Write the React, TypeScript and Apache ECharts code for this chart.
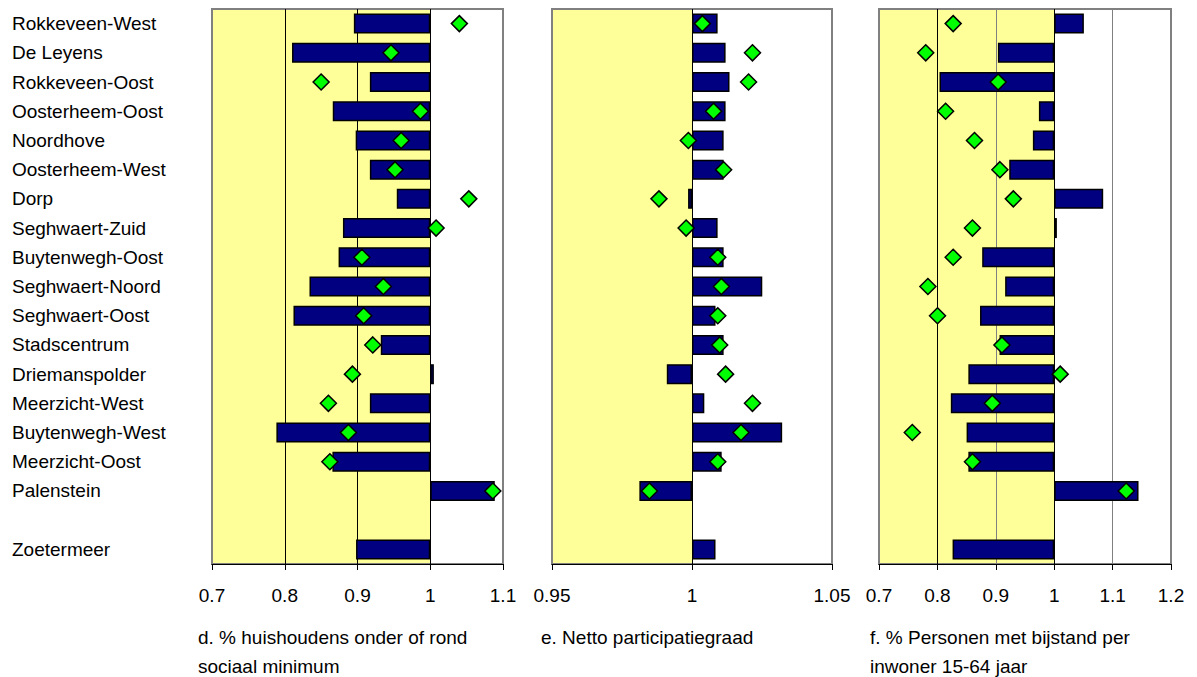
import React, { useEffect, useRef } from "react";
import * as echarts from "echarts";

const districts = [
  "Rokkeveen-West", "De Leyens", "Rokkeveen-Oost", "Oosterheem-Oost", "Noordhove",
  "Oosterheem-West", "Dorp", "Seghwaert-Zuid", "Buytenwegh-Oost", "Seghwaert-Noord",
  "Seghwaert-Oost", "Stadscentrum", "Driemanspolder", "Meerzicht-West", "Buytenwegh-West",
  "Meerzicht-Oost", "Palenstein",
];
const totalLabel = "Zoetermeer";

// d. % huishoudens onder of rond sociaal minimum
const barsD = [0.895, 0.81, 0.917, 0.866, 0.8975, 0.917, 0.954, 0.88, 0.874, 0.834, 0.812, 0.932, 1.005, 0.917, 0.7885, 0.8655, 1.0887];
const totalD = 0.898;
const markersD = [1.04, 0.946, 0.85, 0.9865, 0.96, 0.9516, 1.053, 1.008, 0.906, 0.9356, 0.9085, 0.921, 0.893, 0.86, 0.8875, 0.862, 1.086];

// e. Netto participatiegraad
const barsE = [1.00915, 1.012, 1.0134, 1.012, 1.0113, 1.0113, 0.9986, 1.00915, 1.0113, 1.0251, 1.0084, 1.0113, 0.991, 1.0044, 1.0322, 1.0106, 0.9812];
const totalE = 1.0084;
const markersE = [1.0037, 1.0216, 1.0202, 1.0077, 0.9987, 1.0113, 0.9882, 0.9979, 1.0092, 1.0105, 1.0092, 1.0099, 1.012, 1.0216, 1.0175, 1.0092, 0.9848];

// f. % Personen met bijstand per inwoner 15-64 jaar
const barsF = [1.0508, 0.9036, 0.8036, 0.9738, 0.9635, 0.923, 1.0839, 1.0046, 0.8767, 0.916, 0.873, 0.9064, 0.853, 0.823, 0.85, 0.853, 1.1444];
const totalF = 0.826;
const markersF = [0.827, 0.78, 0.904, 0.814, 0.8635, 0.907, 0.93, 0.86, 0.827, 0.7837, 0.8002, 0.9105, 1.0103, 0.894, 0.757, 0.86, 1.1233];

const titleD = ["d. % huishoudens onder of rond", "sociaal minimum"];
const titleE = ["e. Netto participatiegraad"];
const titleF = ["f. % Personen met bijstand per", "inwoner 15-64 jaar"];

const axisMin = [0.7, 0.95, 0.7];
const axisMax = [1.1, 1.05, 1.2];
const axisStep = [0.1, 0.05, 0.1];

const FONT = "'Liberation Sans', Arial, sans-serif";

export default function App() {
  const ref = useRef<HTMLDivElement>(null);
  useEffect(() => {
    if (!ref.current) return;
    const chart = echarts.init(ref.current, null, { renderer: "svg" });
    const categories = [...districts, "", totalLabel];
    const panels = [
      { bars: [...barsD, null, totalD], markers: markersD },
      { bars: [...barsE, null, totalE], markers: markersE },
      { bars: [...barsF, null, totalF], markers: markersF },
    ];
    const gridLefts = [212, 552, 879];
    const gridWidths = [291, 280, 292];
    const titleLefts = [198, 541, 870];
    const splitColors = [
      ["#000000"],
      ["#000000"],
      ["#000000", "#808080", "#000000", "#808080"],
    ];

    const series: any[] = [];
    panels.forEach((p, k) => {
      series.push({
        type: "bar",
        xAxisIndex: k,
        yAxisIndex: k,
        stack: "s" + k,
        barWidth: 20,
        silent: true,
        z: 1,
        itemStyle: { color: "rgba(0,0,0,0)", borderWidth: 0 },
        data: p.bars.map((v) => (v == null ? "-" : Math.min(v, 1))),
        markArea: {
          silent: true,
          itemStyle: { color: "#FFFF99" },
          data: [[{ xAxis: axisMin[k] }, { xAxis: 1 }]],
        },
      });
      series.push({
        type: "bar",
        xAxisIndex: k,
        yAxisIndex: k,
        stack: "s" + k,
        barWidth: 20,
        z: 2,
        itemStyle: { color: "#000080", borderColor: "#000000", borderWidth: 1.5 },
        data: p.bars.map((v) => (v == null ? "-" : Math.abs(v - 1))),
      });
      series.push({
        type: "scatter",
        xAxisIndex: k,
        yAxisIndex: k,
        z: 3,
        symbol: "diamond",
        symbolSize: 16,
        itemStyle: { color: "#00FF00", borderColor: "#000000", borderWidth: 1.5, opacity: 1 },
        data: p.markers.map((v, i) => [v, i]),
      });
    });

    const titles: any[] = [];
    [titleD, titleE, titleF].forEach((lines, k) => {
      lines.forEach((line, j) => {
        titles.push({
          text: line,
          left: titleLefts[k],
          top: 627 + j * 29,
          padding: 0,
          textStyle: { fontSize: 19, fontWeight: "normal", color: "#000", lineHeight: 20, fontFamily: FONT },
        });
      });
    });

    chart.setOption({
      animation: false,
      backgroundColor: "#ffffff",
      textStyle: { fontFamily: FONT },
      title: titles,
      grid: gridLefts.map((l, k) => ({
        left: l,
        width: gridWidths[k],
        top: 9,
        height: 555,
        show: true,
        borderColor: "#808080",
        borderWidth: 2,
        backgroundColor: "transparent",
        z: 1.2,
      })),
      xAxis: [0, 1, 2].map((k) => ({
        type: "value",
        gridIndex: k,
        min: axisMin[k],
        max: axisMax[k],
        interval: axisStep[k],
        z: 1.5,
        axisLine: { show: true, lineStyle: { color: "#000", width: 1 } },
        axisTick: { show: true, length: 6, lineStyle: { color: "#000" } },
        axisLabel: { fontSize: 19, color: "#000", margin: 22, fontFamily: FONT },
        splitLine: {
          show: true,
          showMinLine: false,
          showMaxLine: false,
          lineStyle: { color: splitColors[k], width: 1 },
        },
      })),
      yAxis: [0, 1, 2].map((k) => ({
        type: "category",
        gridIndex: k,
        data: categories,
        inverse: true,
        z: 1.5,
        axisLine: { show: false },
        axisTick: { show: false },
        splitLine: { show: false },
        axisLabel:
          k === 0
            ? { show: true, align: "left", margin: 200, fontSize: 19, color: "#000", fontFamily: FONT }
            : { show: false },
      })),
      series,
    });
    return () => chart.dispose();
  }, []);
  return (
    <div
      ref={ref}
      style={{ position: "absolute", left: 0, top: 0, width: 1197, height: 677, background: "#fff" }}
    />
  );
}
